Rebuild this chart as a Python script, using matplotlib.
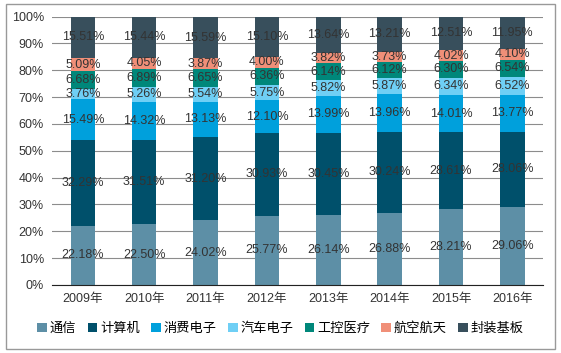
import matplotlib.pyplot as plt
import numpy as np

plt.rcParams['font.family'] = ['Liberation Sans', 'Noto Sans CJK SC', 'DejaVu Sans']

years = ['2009年', '2010年', '2011年', '2012年', '2013年', '2014年', '2015年', '2016年']
series_names = ['通信', '计算机', '消费电子', '汽车电子', '工控医疗', '航空航天', '封装基板']
tongxin = [22.18, 22.50, 24.02, 25.77, 26.14, 26.88, 28.21, 29.06]
jisuanji = [32.29, 31.51, 31.20, 30.93, 30.45, 30.24, 28.61, 28.06]
xiaofei = [15.49, 14.32, 13.13, 12.10, 13.99, 13.96, 14.01, 13.77]
qiche = [3.76, 5.26, 5.54, 5.75, 5.82, 5.87, 6.34, 6.52]
gongkong = [6.68, 6.89, 6.65, 6.36, 6.14, 6.12, 6.30, 6.54]
hangkong = [5.09, 4.05, 3.87, 4.00, 3.82, 3.73, 4.02, 4.10]
fengzhuang = [15.51, 15.44, 15.59, 15.10, 13.64, 13.21, 12.51, 11.95]
colors = ['#5d8fa6', '#00506b', '#00a0dc', '#6fcff5', '#00877a', '#f08f78', '#384f5c']

data = np.array([tongxin, jisuanji, xiaofei, qiche, gongkong, hangkong, fengzhuang])
share = data / data.sum(axis=0) * 100

fig = plt.figure(figsize=(5.61, 3.53), dpi=100)
ax = fig.add_axes([0.093, 0.193, 0.875, 0.76])
x = np.arange(len(years))
bottom = np.zeros(len(years))
for i in range(len(series_names)):
    ax.bar(x, share[i], 0.4, bottom=bottom, color=colors[i], label=series_names[i], zorder=2)
    for j in range(len(years)):
        ax.text(x[j], bottom[j] + share[i][j] / 2, '%.2f%%' % data[i][j],
                ha='center', va='center', fontsize=9, color='#333333', zorder=4)
    bottom += share[i]

ax.set_xlim(-0.5, len(years) - 0.5)
ax.set_ylim(0, 100)
ax.set_yticks(np.arange(0, 101, 10))
ax.set_yticklabels(['%d%%' % v for v in range(0, 101, 10)])
ax.set_xticks(x)
ax.set_xticklabels(years)
ax.tick_params(axis='both', length=0, labelsize=9, colors='#333333')
ax.tick_params(axis='x', pad=6)
ax.tick_params(axis='y', pad=6)
ax.grid(axis='y', color='#8c8c8c', linewidth=0.8, zorder=3)
for s in ['top', 'right', 'left']:
    ax.spines[s].set_visible(False)
ax.spines['bottom'].set_color('#222222')
ax.spines['bottom'].set_zorder(3)

ax.legend(loc='upper center', bbox_to_anchor=(0.465, -0.12), ncol=7, frameon=False,
          fontsize=9.5, handlelength=0.75, handleheight=0.75, handletextpad=0.2,
          columnspacing=0.85, borderaxespad=0)

border = plt.Rectangle((0.011, 0.01), 0.978, 0.98, transform=fig.transFigure,
                       fill=False, edgecolor='#999999', linewidth=1)
fig.patches.append(border)

fig.savefig('out.png', dpi=100)
